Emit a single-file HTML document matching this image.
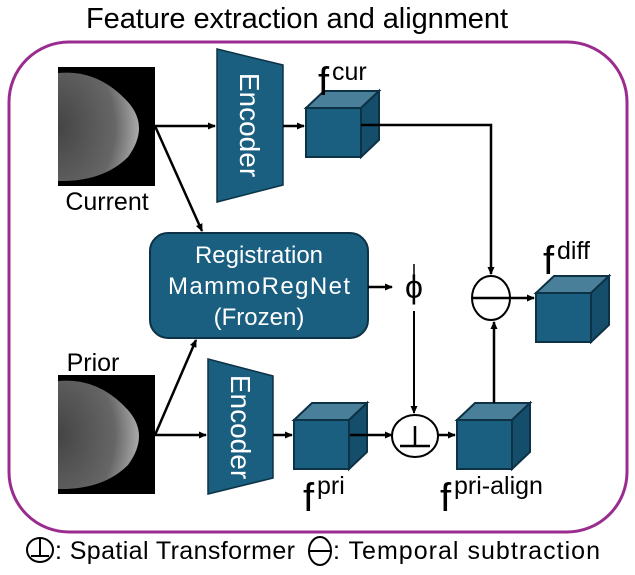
<!DOCTYPE html>
<html><head><style>body{margin:0;background:#fff}svg{display:block}text{font-family:"Liberation Sans",sans-serif}</style></head>
<body>
<svg width="635" height="575" viewBox="0 0 635 575" xmlns="http://www.w3.org/2000/svg">
<defs>
<marker id="a" markerWidth="8" markerHeight="8" refX="7" refY="4" orient="auto" markerUnits="userSpaceOnUse"><path d="M0,0.5 L8,4 L0,7.5 z" fill="#000"/></marker>
<radialGradient id="m" cx="0" cy="0.5" r="1"><stop offset="0" stop-color="#444"/><stop offset="0.7" stop-color="#666"/><stop offset="1" stop-color="#aaa"/></radialGradient>
<g id="cube"><path d="M0,17 L18,0 L73,0 L55,17 Z" fill="#4a7f99" stroke="#0d3246" stroke-width="2"/><path d="M55,17 L73,0 L73,49 L55,66 Z" fill="#144e6a" stroke="#0d3246" stroke-width="2"/><rect x="0" y="17" width="55" height="49" fill="#1a5e80" stroke="#0d3246" stroke-width="2"/></g>
<g id="mam"><rect width="97" height="119" fill="#000"/><path d="M0,6 Q40,2 70,35 Q92,60 70,90 Q45,115 0,114 Z" fill="url(#m)"/></g>
</defs>
<text x="297" y="28" font-size="29" text-anchor="middle" textLength="422">Feature extraction and alignment</text>
<rect x="9" y="42" width="618" height="490" rx="60" fill="none" stroke="#9b2c8f" stroke-width="3"/>
<use href="#mam" x="58" y="67"/>
<use href="#mam" x="58" y="375"/>
<text x="107" y="210" font-size="25" text-anchor="middle">Current</text>
<text x="93" y="371" font-size="25" text-anchor="middle">Prior</text>
<path d="M217,49 L283,65 L283,185 L217,202 Z" fill="#1a5e80" stroke="#0d3246" stroke-width="1.5"/>
<text transform="translate(240,125) rotate(90)" font-size="28" fill="#fff" text-anchor="middle">Encoder</text>
<path d="M208,359 L273,376 L273,478 L208,494 Z" fill="#1a5e80" stroke="#0d3246" stroke-width="1.5"/>
<text transform="translate(231,427) rotate(90)" font-size="28" fill="#fff" text-anchor="middle">Encoder</text>
<use href="#cube" x="306" y="91"/>
<use href="#cube" x="294" y="403"/>
<use href="#cube" x="457" y="403"/>
<use href="#cube" x="536" y="276"/>
<rect x="150" y="233" width="218" height="105" rx="18" fill="#1a5e80" stroke="#0d3246" stroke-width="2"/>
<g font-size="24" fill="#fff" text-anchor="middle"><text x="259" y="263">Registration</text><text x="259" y="294" textLength="182">MammoRegNet</text><text x="259" y="325">(Frozen)</text></g>
<g stroke="#000" stroke-width="2.5" fill="none">
<line x1="155" y1="126" x2="215" y2="126" marker-end="url(#a)"/>
<line x1="283" y1="126" x2="304" y2="126" marker-end="url(#a)"/>
<line x1="155" y1="126" x2="202" y2="231" marker-end="url(#a)"/>
<polyline points="361,125 491,125 491,274" marker-end="url(#a)"/>
<line x1="368" y1="287" x2="392" y2="287" marker-end="url(#a)"/>
<line x1="414" y1="311" x2="414" y2="413" marker-end="url(#a)" stroke-width="2"/>
<line x1="155" y1="435" x2="206" y2="435" marker-end="url(#a)"/>
<line x1="155" y1="435" x2="196" y2="340" marker-end="url(#a)"/>
<line x1="273" y1="435" x2="292" y2="435" marker-end="url(#a)"/>
<line x1="350" y1="435" x2="392" y2="435" marker-end="url(#a)"/>
<line x1="437" y1="435" x2="455" y2="435" marker-end="url(#a)"/>
<line x1="494" y1="403" x2="494" y2="322" marker-end="url(#a)"/>
<line x1="511" y1="298" x2="534" y2="298" marker-end="url(#a)"/>
</g>
<text x="414" y="298" font-size="32" font-family="Liberation Serif" text-anchor="middle">ϕ</text>
<line x1="414" y1="264" x2="414" y2="302" stroke="#000" stroke-width="1.5"/>
<ellipse cx="415" cy="436" rx="23" ry="21" fill="#fff" stroke="#000" stroke-width="2"/>
<path d="M400,446 H430 M415,446 V426" stroke="#000" stroke-width="2.5"/>
<ellipse cx="491" cy="298" rx="19" ry="22" fill="#fff" stroke="#000" stroke-width="2"/>
<line x1="473" y1="298" x2="509" y2="298" stroke="#000" stroke-width="2.5"/>
<g font-size="40"><text x="318" y="95">f</text><text x="543" y="274">f</text><text x="303" y="511">f</text><text x="440" y="511">f</text></g>
<g font-size="25"><text x="332" y="80">cur</text><text x="557" y="259">diff</text><text x="317" y="494">pri</text><text x="454" y="494">pri-align</text></g>
<ellipse cx="40" cy="550" rx="13" ry="12" fill="#fff" stroke="#000" stroke-width="2"/>
<path d="M31,556 H49 M40,556 V539" stroke="#000" stroke-width="2"/>
<text x="55" y="559" font-size="25" textLength="240">: Spatial Transformer</text>
<ellipse cx="320" cy="551" rx="11" ry="14" fill="#fff" stroke="#000" stroke-width="2"/>
<line x1="309" y1="551" x2="331" y2="551" stroke="#000" stroke-width="2"/>
<text x="333" y="559" font-size="25" textLength="267">: Temporal subtraction</text>
</svg>
</body></html>
